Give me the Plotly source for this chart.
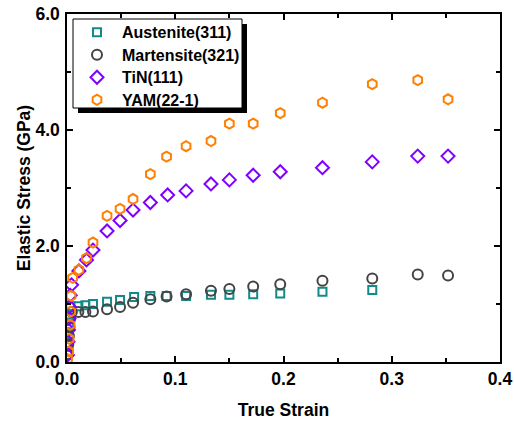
import plotly.graph_objects as go

# True strain / elastic stress (GPa) per diffraction peak
aus_strain = [0.0005, 0.001, 0.0015, 0.002, 0.0025, 0.003, 0.0105, 0.017, 0.024, 0.037, 0.049,
              0.062, 0.077, 0.092, 0.110, 0.133, 0.150, 0.172, 0.197, 0.236, 0.282]
aus_stress = [0.12, 0.30, 0.48, 0.65, 0.82, 0.96, 0.96, 0.98, 1.00, 1.04, 1.07,
              1.12, 1.14, 1.14, 1.14, 1.16, 1.16, 1.17, 1.18, 1.21, 1.24]

mar_strain = [0.0006, 0.0012, 0.0018, 0.0024, 0.003, 0.0045, 0.0105, 0.017, 0.024, 0.037, 0.049,
              0.061, 0.077, 0.092, 0.110, 0.133, 0.150, 0.172, 0.197, 0.236, 0.282, 0.324, 0.352]
mar_stress = [0.13, 0.30, 0.45, 0.60, 0.75, 0.86, 0.86, 0.86, 0.87, 0.91, 0.95,
              1.02, 1.08, 1.13, 1.17, 1.23, 1.26, 1.30, 1.34, 1.40, 1.44, 1.51, 1.49]

tin_strain = [0.0004, 0.0009, 0.0013, 0.0018, 0.0023, 0.003, 0.0042, 0.011, 0.018, 0.024, 0.037,
              0.049, 0.061, 0.077, 0.093, 0.110, 0.133, 0.150, 0.172, 0.197, 0.236, 0.282, 0.324, 0.352]
tin_stress = [0.12, 0.35, 0.55, 0.75, 0.95, 1.15, 1.33, 1.57, 1.76, 1.93, 2.26,
              2.44, 2.62, 2.75, 2.88, 2.95, 3.07, 3.14, 3.22, 3.28, 3.35, 3.45, 3.55, 3.55]

yam_strain = [0.0005, 0.0016, 0.002, 0.0028, 0.0034, 0.0037, 0.0052, 0.011, 0.018, 0.024, 0.037,
              0.049, 0.061, 0.077, 0.092, 0.110, 0.133, 0.150, 0.172, 0.197, 0.236, 0.282, 0.324, 0.352]
yam_stress = [0.05, 0.18, 0.40, 0.64, 0.87, 1.14, 1.45, 1.59, 1.79, 2.06, 2.52,
              2.64, 2.81, 3.24, 3.54, 3.72, 3.81, 4.11, 4.11, 4.29, 4.47, 4.79, 4.86, 4.53]

x_range = [0, 0.4]
y_range = [0, 6]

series = [
    ("Austenite(311)", aus_strain, aus_stress, "square-open", 8, "#138a8a"),
    ("Martensite(321)", mar_strain, mar_stress, "circle-open", 10, "#444444"),
    ("TiN(111)", tin_strain, tin_stress, "diamond-open", 10, "#8000ff"),
    ("YAM(22-1)", yam_strain, yam_stress, "hexagon-open", 10, "#ff8000"),
]

FONT = "Liberation Sans, Arial, sans-serif"

fig = go.Figure()
for name, xs, ys, sym, size, color in series:
    fig.add_trace(go.Scatter(
        x=xs, y=ys, mode="markers",
        name='<span style="font-size:16px">%s</span>' % name,
        marker=dict(symbol=sym, size=size, color=color, line=dict(width=2, color=color)),
    ))

# plot area in pixels: left 67, right 500, top 14, bottom 362
L, R, T, B = 67, 500, 14, 362
W, H = R - L, B - T


def px(x):
    return (x - L) / W


def py(y):
    return (B - y) / H


# legend frame with drop shadow
fig.add_shape(type="rect", xref="paper", yref="paper", layer="above",
              x0=px(78), x1=px(247), y0=py(113), y1=py(24),
              fillcolor="black", line=dict(width=0))
fig.add_shape(type="rect", xref="paper", yref="paper", layer="above",
              x0=px(73), x1=px(242), y0=py(108), y1=py(19),
              fillcolor="white", line=dict(color="black", width=1))

axis_common = dict(
    showline=True, linecolor="black", linewidth=1.5, mirror="ticks",
    ticks="inside", ticklen=6, tickwidth=1.5, tickcolor="black",
    showgrid=False, zeroline=False, automargin=False,
    tickfont=dict(family=FONT, size=17.5, color="black", weight="bold"),
    tickformat=".1f",
)

fig.update_xaxes(range=x_range, dtick=0.1,
                 minor=dict(ticks="inside", ticklen=4, dtick=0.05, tickcolor="black", tickwidth=1.5),
                 title=dict(text="True Strain", standoff=16,
                            font=dict(family=FONT, size=17.5, color="black", weight="bold")),
                 **axis_common)
fig.update_yaxes(range=y_range, dtick=2, ticklabelstandoff=2,
                 minor=dict(ticks="inside", ticklen=4, dtick=1, tickcolor="black", tickwidth=1.5),
                 title=dict(text="Elastic Stress (GPa)", standoff=0,
                            font=dict(family=FONT, size=17.5, color="black", weight="bold")),
                 **axis_common)

fig.update_layout(
    width=514, height=424,
    margin=dict(l=L, r=514 - R, t=T, b=424 - B),
    plot_bgcolor="white", paper_bgcolor="white",
    font=dict(family=FONT, color="black"),
    legend=dict(
        x=px(72), y=py(16), xanchor="left", yanchor="top",
        bgcolor="rgba(0,0,0,0)", borderwidth=0,
        font=dict(family=FONT, size=15, color="black", weight="bold"),
        itemwidth=40, tracegroupgap=0,
    ),
)

fig.write_html("out.html")
